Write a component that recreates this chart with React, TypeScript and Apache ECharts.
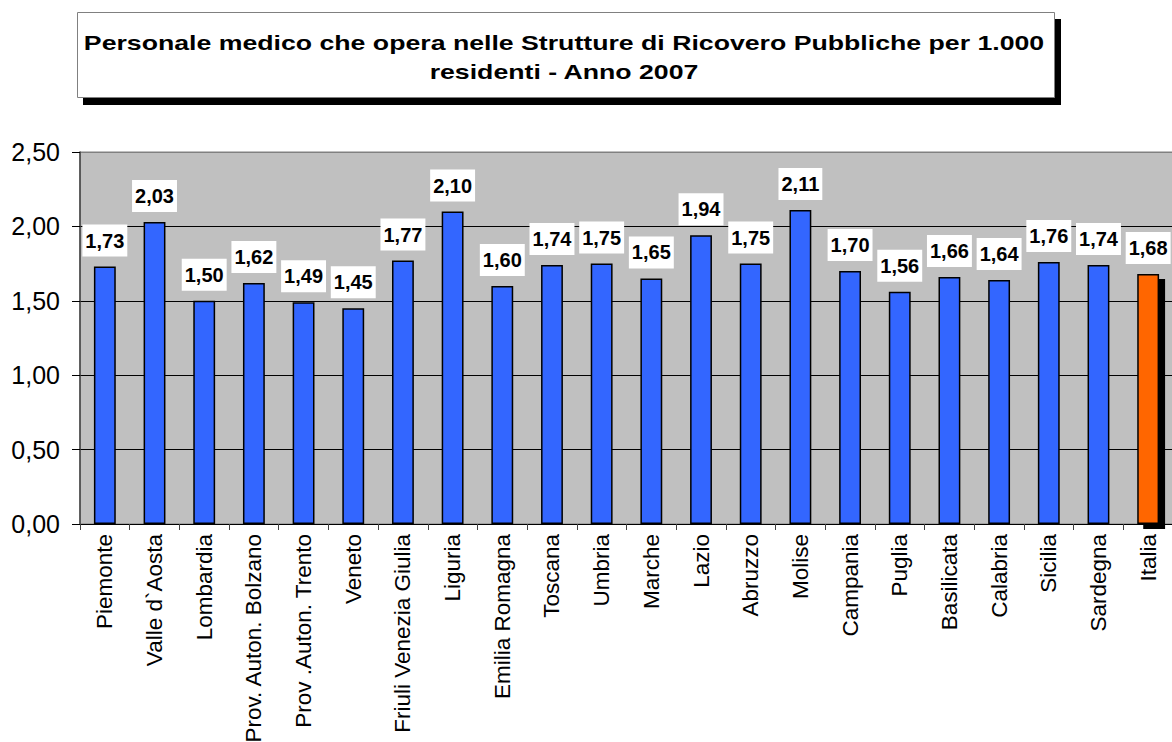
import React, { useEffect, useRef } from "react";
import * as echarts from "echarts";

const categories = [
  "Piemonte",
  "Valle d`Aosta",
  "Lombardia",
  "Prov. Auton. Bolzano",
  "Prov .Auton. Trento",
  "Veneto",
  "Friuli Venezia Giulia",
  "Liguria",
  "Emilia Romagna",
  "Toscana",
  "Umbria",
  "Marche",
  "Lazio",
  "Abruzzo",
  "Molise",
  "Campania",
  "Puglia",
  "Basilicata",
  "Calabria",
  "Sicilia",
  "Sardegna",
  "Italia",
];

const values = [
  1.73, 2.03, 1.5, 1.62, 1.49, 1.45, 1.77, 2.1, 1.6, 1.74, 1.75, 1.65, 1.94,
  1.75, 2.11, 1.7, 1.56, 1.66, 1.64, 1.76, 1.74, 1.68,
];

const titleLines = [
  "Personale medico che opera nelle Strutture di Ricovero Pubbliche per 1.000",
  "residenti - Anno 2007",
];

const fmt = (v: number) => v.toFixed(2).replace(".", ",");
const FONT = "Arial, 'Liberation Sans', sans-serif";

export default function App() {
  const ref = useRef<HTMLDivElement>(null);

  useEffect(() => {
    if (!ref.current) return;
    const chart = echarts.init(ref.current, null, { renderer: "svg" });
    const data = values.map((v, i) => {
      const isItalia = categories[i] === "Italia";
      return {
        value: v,
        itemStyle: isItalia
          ? {
              color: "#FF6600",
              borderColor: "#000",
              borderWidth: 1.5,
              shadowColor: "#000",
              shadowOffsetX: 6,
              shadowOffsetY: 5,
              shadowBlur: 0,
            }
          : { color: "#3366FF", borderColor: "#000", borderWidth: 1.5 },
      };
    });
    chart.setOption({
      animation: false,
      textStyle: { fontFamily: FONT },
      graphic: [
        {
          type: "rect",
          shape: { x: 83, y: 19, width: 978, height: 86 },
          style: { fill: "#000" },
          z: 10,
        },
        {
          type: "rect",
          shape: { x: 77.5, y: 12.5, width: 977, height: 85 },
          style: { fill: "#fff", stroke: "#808080", lineWidth: 1 },
          z: 11,
        },
        {
          type: "text",
          x: 564,
          y: 43,
          scaleX: 1.27,
          style: {
            text: titleLines[0],
            font: "bold 21px " + FONT,
            fill: "#000",
            align: "center",
            verticalAlign: "middle",
          },
          z: 12,
        },
        {
          type: "text",
          x: 564,
          y: 72,
          scaleX: 1.27,
          style: {
            text: titleLines[1],
            font: "bold 21px " + FONT,
            fill: "#000",
            align: "center",
            verticalAlign: "middle",
          },
          z: 12,
        },
      ],
      grid: {
        left: 80,
        top: 152,
        width: 1093,
        height: 372,
        containLabel: false,
        outerBoundsMode: "none",
        show: true,
        backgroundColor: "#C0C0C0",
        borderColor: "#808080",
        borderWidth: 1,
      },
      xAxis: {
        type: "category",
        data: categories,
        axisLine: { lineStyle: { color: "#000", width: 1 } },
        axisTick: { show: true, length: 6, lineStyle: { color: "#404040" } },
        axisLabel: {
          rotate: 90,
          interval: 0,
          margin: 10,
          fontSize: 22.5,
          color: "#000",
          fontFamily: FONT,
        },
      },
      yAxis: {
        type: "value",
        min: 0,
        max: 2.5,
        interval: 0.5,
        axisLine: { show: true, lineStyle: { color: "#404040", width: 1.5 } },
        axisTick: { show: true, length: 8, lineStyle: { color: "#000" } },
        axisLabel: {
          formatter: (v: number) => fmt(v),
          fontSize: 25,
          color: "#000",
          margin: 20,
          fontFamily: FONT,
        },
        splitLine: {
          show: true,
          lineStyle: {
            color: ["#000", "#000", "#000", "#000", "#000", "#808080"],
            width: 1,
          },
        },
      },
      series: [
        {
          type: "bar",
          data,
          barWidth: "44%",
          label: {
            show: true,
            position: "top",
            distance: 10,
            formatter: (p: any) => fmt(p.value),
            fontSize: 20,
            fontWeight: "bold",
            color: "#000",
            backgroundColor: "#fff",
            padding: [6, 3],
            fontFamily: FONT,
          },
        },
      ],
    });
    return () => chart.dispose();
  }, []);

  return (
    <div
      ref={ref}
      style={{
        position: "fixed",
        left: 0,
        top: 0,
        width: 1172,
        height: 742,
        background: "#fff",
      }}
    />
  );
}
